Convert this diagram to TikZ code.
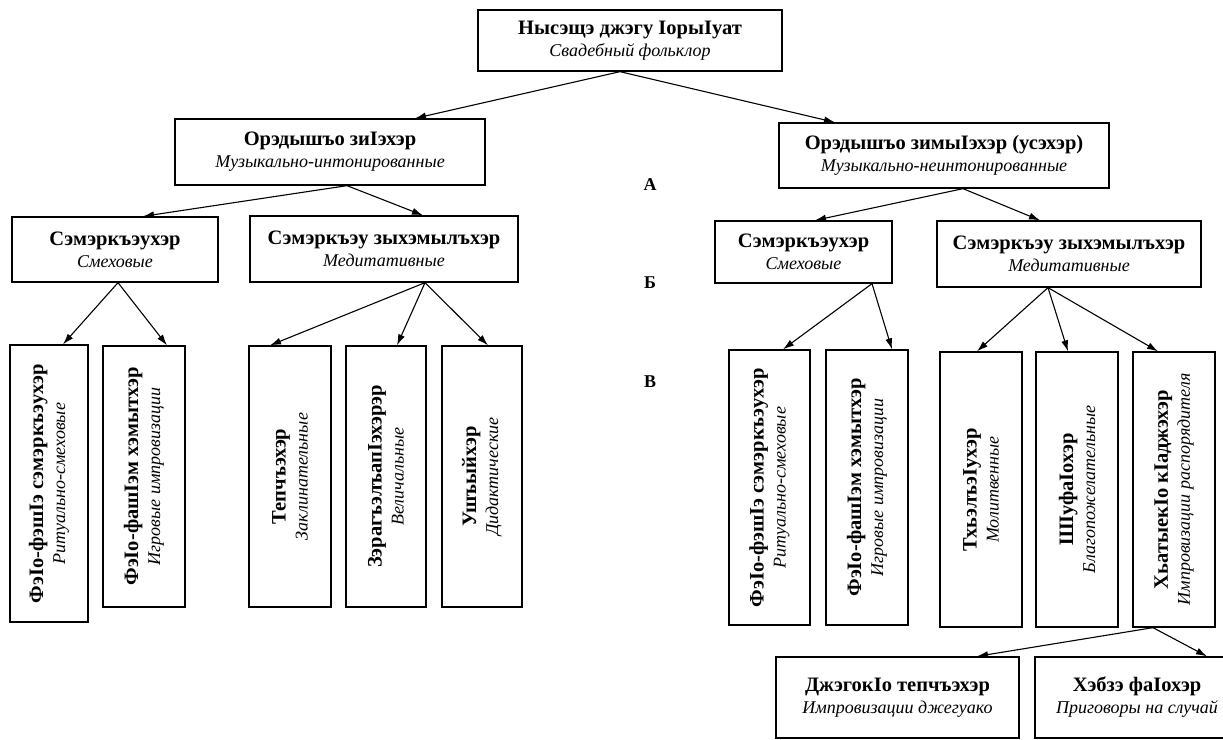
\documentclass[tikz,border=0pt]{standalone}
\usepackage{fontspec}
\setmainfont{Liberation Serif}
\usetikzlibrary{arrows.meta}
\newcommand\tb[1]{{\fontsize{20.5}{22}\selectfont\bfseries #1}}
\newcommand\ti[1]{{\fontsize{18}{22}\selectfont\itshape #1}}
\newcommand\two[2]{\tb{#1}\\\ti{#2}}
\begin{document}
\begin{tikzpicture}[x=1pt,y=-1pt,
  box/.style 2 args={draw, line width=1.3pt, inner sep=0pt, align=center,
    font=\fontsize{20.5}{22}\selectfont,
    minimum width=#1, minimum height=#2},
  vbox/.style 2 args={box={#2}{#1}, rotate=90},
  conn/.style={-{Latex[length=11pt,width=7pt]}, line width=1.1pt},
  lvl/.style={font=\fontsize{18}{20}\selectfont\bfseries}]
\useasboundingbox (0,0) rectangle (1223,739);
\fill[white] (0,0) rectangle (1223,739);

% level 1
\node[box={304pt}{61pt}] (top) at (630,40.5) {\two{Нысэщэ джэгу IорыIуат}{Свадебный фольклор}};
% level 2
\node[box={310pt}{66pt}] (l2l) at (330,152) {\two{Орэдышъо зиIэхэр}{Музыкально-интонированные}};
\node[box={330pt}{65pt}] (l2r) at (944,155.5) {\two{Орэдышъо зимыIэхэр (усэхэр)}{Музыкально-неинтонированные}};
% level 3
\node[box={206pt}{65pt}] (l3a) at (115,249.5) {\two{Сэмэркъэухэр}{Смеховые}};
\node[box={268pt}{66pt}] (l3b) at (384,249) {\two{Сэмэркъэу зыхэмылъхэр}{Медитативные}};
\node[box={177pt}{62pt}] (r3a) at (803.5,252) {\two{Сэмэркъэухэр}{Смеховые}};
\node[box={264pt}{66pt}] (r3b) at (1069,254) {\two{Сэмэркъэу зыхэмылъхэр}{Медитативные}};
% vertical boxes left
\node[vbox={78pt}{277pt}] (v1) at (49,483.5) {\two{ФэIо-фэшIэ сэмэркъэухэр}{Ритуально-смеховые}};
\node[vbox={82pt}{261pt}] (v2) at (144,476.5) {\two{ФэIо-фашIэм хэмытхэр}{Игровые импровизации}};
\node[vbox={82pt}{261pt}] (v3) at (290,476.5) {\two{Тепчъэхэр}{Заклинательные}};
\node[vbox={80pt}{261pt}] (v4) at (386,476.5) {\two{ЗэрагъэлъапIэхэрэр}{Величальные}};
\node[vbox={80pt}{261pt}] (v5) at (482,476.5) {\two{Ушъыйхэр}{Дидактические}};
% vertical boxes right
\node[vbox={81pt}{275pt}] (rv1) at (769.5,487.5) {\two{ФэIо-фэшIэ сэмэркъэухэр}{Ритуально-смеховые}};
\node[vbox={82pt}{275pt}] (rv2) at (867,487.5) {\two{ФэIо-фашIэм хэмытхэр}{Игровые импровизации}};
\node[vbox={82pt}{275pt}] (rv3) at (981,489.5) {\two{ТхьэлъэIухэр}{Молитвенные}};
\node[vbox={82pt}{275pt}] (rv4) at (1077,489.5) {\two{ШIуфаIохэр}{Благопожелательные}};
\node[vbox={82pt}{275pt}] (rv5) at (1174,489.5) {\two{ХьатыекIо кIаджэхэр}{Импровизации распорядителя}};
% bottom boxes
\node[box={243pt}{81pt}] (b1) at (897.5,697.5) {\two{ДжэгокIо тепчъэхэр}{Импровизации джегуако}};
\node[box={204pt}{81pt}] (b2) at (1137,697.5) {\two{Хэбзэ фаIохэр}{Приговоры на случай}};
% level labels
\node[lvl] (la) at (650,185) {А};
\node[lvl] (lb) at (650,283) {Б};
\node[lvl] (lc) at (650,382) {В};

% connectors
\draw[conn] ([xshift=-10pt]top.south) -- ([xshift=85pt]l2l.north);
\draw[conn] ([xshift=-10pt]top.south) -- ([xshift=-109pt]l2r.north);
\draw[conn] ([xshift=17pt]l2l.south) -- ([xshift=28pt]l3a.north);
\draw[conn] ([xshift=17pt]l2l.south) -- ([xshift=39pt]l3b.north);
\draw[conn] ([xshift=19pt]l2r.south) -- ([xshift=11.5pt]r3a.north);
\draw[conn] ([xshift=19pt]l2r.south) -- ([xshift=-29pt]r3b.north);
\draw[conn] ([xshift=3pt]l3a.south) -- ([xshift=14pt]v1.east);
\draw[conn] ([xshift=3pt]l3a.south) -- ([xshift=23pt]v2.east);
\draw[conn] ([xshift=41pt]l3b.south) -- ([xshift=-20pt]v3.east);
\draw[conn] ([xshift=41pt]l3b.south) -- ([xshift=11pt]v4.east);
\draw[conn] ([xshift=41pt]l3b.south) -- ([xshift=6pt]v5.east);
\draw[conn] ([xshift=68.5pt]r3a.south) -- ([xshift=13.5pt]rv1.east);
\draw[conn] ([xshift=68.5pt]r3a.south) -- ([xshift=25pt]rv2.east);
\draw[conn] ([xshift=-21pt]r3b.south) -- ([xshift=-4pt]rv3.east);
\draw[conn] ([xshift=-21pt]r3b.south) -- ([xshift=-9pt]rv4.east);
\draw[conn] ([xshift=-21pt]r3b.south) -- ([xshift=-16pt]rv5.east);
\draw[conn] ([xshift=-21pt]rv5.west) -- ([xshift=79.5pt]b1.north);
\draw[conn] ([xshift=-21pt]rv5.west) -- ([xshift=70pt]b2.north);
\end{tikzpicture}
\end{document}
